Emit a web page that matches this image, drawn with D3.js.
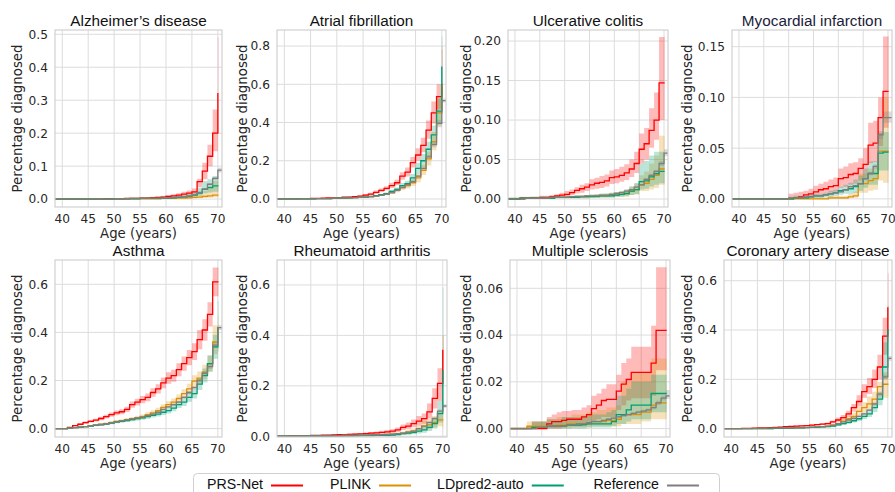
<!DOCTYPE html>
<html><head><meta charset="utf-8">
<script src="https://cdn.jsdelivr.net/npm/d3@7"></script>
<style>body{margin:0;background:#fff}svg{display:block}</style>
</head><body><svg id="c" width="895" height="492"></svg>
<script>
// ---------- DATA ----------
const AGES = [40,41,42,43,44,45,46,47,48,49,50,51,52,53,54,55,56,57,58,59,60,61,62,63,64,65,66,67,68,69,70];
const X_TICKS = [40,45,50,55,60,65,70];
const SERIES = ["PRS-Net","PLINK","LDpred2-auto","Reference"];
const TITLES = ["Alzheimer’s disease","Atrial fibrillation","Ulcerative colitis","Myocardial infarction","Asthma","Rheumatoid arthritis","Multiple sclerosis","Coronary artery disease"];

// Alzheimer's disease
const ALZ_TICKS = [0,0.1,0.2,0.3,0.4,0.5];
const ALZ_PRS    = [0,0,0,0,0,0,0,0,.001,.001,.001,.001,.002,.002,.002,.003,.003,.004,.005,.006,.008,.010,.012,.015,.018,.022,.053,.085,.130,.200,.320];
const ALZ_PRS_LO = [0,0,0,0,0,0,0,0,0,0,0,0,.001,.001,.001,.001,.001,.002,.002,.003,.004,.005,.006,.008,.010,.013,.037,.060,.100,.145,.200];
const ALZ_PRS_HI = [.001,.001,.001,.001,.001,.001,.001,.001,.002,.002,.002,.003,.003,.004,.004,.005,.006,.007,.008,.010,.012,.015,.018,.022,.026,.032,.062,.110,.165,.272,.490];
const ALZ_PL     = [0,0,0,0,0,0,0,0,0,0,0,0,0,.001,.001,.001,.001,.001,.001,.002,.002,.002,.003,.003,.004,.005,.006,.008,.010,.012,.012];
const ALZ_PL_LO  = [0,0,0,0,0,0,0,0,0,0,0,0,0,0,0,0,0,0,0,.001,.001,.001,.001,.001,.002,.002,.003,.003,.004,.005,.005];
const ALZ_PL_HI  = [.001,.001,.001,.001,.001,.001,.001,.001,.001,.001,.001,.001,.002,.002,.002,.002,.003,.003,.003,.004,.004,.005,.006,.007,.009,.012,.016,.025,.040,.055,.055];
const ALZ_LD     = [0,0,0,0,0,0,0,0,0,0,.001,.001,.001,.001,.001,.002,.002,.002,.002,.003,.003,.004,.005,.007,.009,.012,.018,.030,.035,.040,.040];
const ALZ_LD_LO  = [0,0,0,0,0,0,0,0,0,0,0,0,0,0,0,.001,.001,.001,.001,.001,.002,.002,.003,.004,.005,.007,.010,.018,.020,.022,.022];
const ALZ_LD_HI  = [.001,.001,.001,.001,.001,.001,.001,.001,.001,.001,.003,.003,.003,.004,.004,.005,.005,.005,.005,.006,.006,.007,.009,.012,.015,.020,.035,.055,.060,.070,.070];
const ALZ_RF     = [0,0,0,0,0,0,0,0,0,0,.001,.001,.001,.002,.002,.002,.002,.003,.003,.003,.004,.005,.006,.007,.009,.012,.020,.030,.045,.063,.088];
const ALZ_RF_LO  = [0,0,0,0,0,0,0,0,0,0,.001,.001,.001,.001,.001,.002,.002,.002,.002,.003,.003,.004,.005,.006,.008,.011,.018,.028,.042,.059,.081];
const ALZ_RF_HI  = [0,0,0,0,0,0,0,0,0,.001,.001,.001,.001,.002,.002,.002,.003,.003,.003,.004,.005,.006,.007,.008,.010,.013,.022,.032,.048,.067,.095];

// Atrial fibrillation
const AF_TICKS = [0,0.2,0.4,0.6,0.8];
const AF_PRS    = [0,.001,.001,.002,.002,.003,.003,.004,.005,.006,.007,.009,.010,.012,.015,.020,.025,.035,.045,.055,.070,.085,.120,.140,.190,.230,.280,.360,.450,.535,.600];
const AF_PRS_LO = [0,0,.001,.001,.001,.002,.002,.003,.004,.004,.005,.006,.007,.009,.011,.015,.019,.027,.036,.045,.058,.072,.100,.118,.165,.200,.245,.315,.395,.470,.480];
const AF_PRS_HI = [.001,.002,.002,.003,.003,.004,.005,.006,.007,.008,.010,.012,.014,.016,.020,.026,.032,.044,.055,.067,.085,.100,.140,.165,.220,.265,.320,.410,.510,.600,.780];
const AF_PL     = [0,0,.001,.001,.001,.001,.002,.002,.002,.003,.004,.005,.006,.007,.008,.010,.012,.016,.020,.025,.035,.045,.060,.070,.085,.110,.150,.210,.300,.450,.600];
const AF_PL_LO  = [0,0,0,0,0,.001,.001,.001,.001,.002,.002,.003,.004,.005,.006,.007,.009,.012,.015,.019,.027,.035,.047,.055,.068,.088,.125,.175,.255,.385,.450];
const AF_PL_HI  = [.001,.001,.002,.002,.002,.002,.003,.003,.003,.004,.006,.007,.008,.009,.010,.013,.015,.020,.025,.031,.043,.055,.073,.085,.103,.133,.178,.248,.350,.520,.800];
const AF_LD     = [0,0,.001,.001,.001,.001,.002,.002,.002,.003,.004,.005,.006,.007,.008,.010,.013,.017,.022,.028,.040,.050,.070,.080,.110,.160,.200,.260,.335,.460,.690];
const AF_LD_LO  = [0,0,0,0,0,.001,.001,.001,.001,.002,.002,.003,.004,.005,.006,.007,.010,.013,.017,.022,.032,.040,.057,.065,.092,.132,.168,.222,.290,.395,.530];
const AF_LD_HI  = [.001,.001,.002,.002,.002,.002,.003,.003,.003,.004,.006,.007,.008,.009,.010,.013,.016,.021,.027,.034,.048,.060,.083,.095,.130,.190,.235,.300,.385,.530,.850];
const AF_RF     = [0,0,.001,.001,.001,.001,.002,.002,.002,.003,.004,.005,.006,.007,.008,.010,.012,.015,.020,.025,.032,.045,.060,.075,.090,.120,.160,.220,.285,.395,.515];
const AF_RF_LO  = [0,0,0,.001,.001,.001,.001,.002,.002,.002,.003,.004,.005,.006,.007,.009,.011,.014,.018,.023,.030,.042,.056,.070,.084,.113,.151,.208,.270,.375,.505];
const AF_RF_HI  = [0,.001,.001,.001,.002,.002,.002,.003,.003,.003,.004,.005,.007,.008,.009,.011,.013,.016,.021,.027,.034,.048,.064,.080,.096,.127,.169,.232,.300,.415,.525];

// Ulcerative colitis
const UC_TICKS = [0,0.05,0.10,0.15,0.20];
const UC_PRS    = [0,.001,.001,.0015,.0015,.002,.002,.003,.004,.005,.006,.008,.011,.013,.015,.018,.020,.021,.023,.027,.028,.030,.033,.038,.045,.063,.070,.087,.100,.147,.147];
const UC_PRS_LO = [0,0,0,.0005,.0005,.001,.001,.0015,.002,.003,.003,.005,.007,.008,.010,.012,.013,.014,.016,.019,.020,.022,.024,.028,.033,.045,.050,.065,.075,.100,.100];
const UC_PRS_HI = [.001,.002,.002,.003,.003,.004,.004,.005,.006,.008,.010,.012,.015,.018,.020,.025,.027,.029,.031,.036,.038,.041,.044,.050,.060,.083,.090,.115,.135,.205,.205];
const UC_PL     = [0,0,.001,.001,.001,.001,.001,.002,.002,.002,.002,.002,.003,.003,.003,.003,.004,.004,.004,.005,.005,.006,.007,.010,.012,.018,.020,.025,.030,.038,.038];
const UC_PL_LO  = [0,0,0,0,0,0,0,.001,.001,.001,.001,.001,.001,.001,.001,.002,.002,.002,.002,.002,.003,.003,.003,.005,.006,.010,.010,.012,.014,.018,.018];
const UC_PL_HI  = [.002,.002,.002,.002,.002,.002,.002,.003,.003,.003,.004,.004,.005,.005,.005,.005,.006,.006,.007,.008,.009,.010,.012,.016,.020,.030,.035,.045,.055,.080,.080];
const UC_LD     = [0,.001,.001,.001,.001,.001,.001,.001,.002,.002,.002,.002,.002,.003,.003,.003,.003,.004,.004,.004,.005,.006,.007,.010,.012,.022,.023,.028,.032,.035,.035];
const UC_LD_LO  = [0,0,0,0,0,0,0,0,.001,.001,.001,.001,.001,.001,.001,.002,.002,.002,.002,.002,.003,.003,.004,.005,.006,.012,.013,.016,.018,.020,.020];
const UC_LD_HI  = [.002,.003,.003,.003,.003,.003,.003,.003,.004,.004,.004,.004,.005,.005,.005,.006,.006,.007,.007,.008,.009,.010,.012,.016,.020,.045,.048,.055,.060,.060,.060];
const UC_RF     = [0,0,.001,.001,.001,.001,.001,.002,.002,.002,.002,.003,.003,.003,.004,.004,.004,.005,.005,.006,.007,.008,.010,.012,.015,.018,.025,.030,.035,.045,.058];
const UC_RF_LO  = [0,0,.0005,.0005,.0005,.0005,.0005,.0015,.0015,.0015,.0015,.0025,.0025,.0025,.0035,.0035,.0035,.0045,.0045,.0055,.0065,.0075,.0093,.0112,.014,.017,.0235,.028,.033,.042,.054];
const UC_RF_HI  = [.0005,.0005,.0015,.0015,.0015,.0015,.0015,.0025,.0025,.0025,.0025,.0035,.0035,.0035,.0045,.0045,.0045,.0055,.0055,.0065,.0075,.0085,.0107,.0128,.016,.019,.0265,.032,.037,.048,.063];

// Myocardial infarction
const MI_TICKS = [0,0.05,0.10,0.15];
const MI_PRS    = [0,0,0,0,0,0,0,0,0,0,0,.001,.002,.004,.005,.007,.009,.010,.012,.013,.020,.021,.024,.025,.030,.034,.053,.055,.080,.106,.106];
const MI_PRS_LO = [0,0,0,0,0,0,0,0,0,0,0,0,0,.001,.002,.003,.004,.005,.006,.007,.011,.012,.014,.015,.018,.021,.035,.036,.052,.070,.070];
const MI_PRS_HI = [0,0,0,0,0,0,0,0,0,0,.005,.006,.007,.008,.010,.013,.015,.017,.019,.021,.030,.032,.035,.036,.040,.050,.075,.077,.100,.160,.160];
const MI_PL     = [0,0,0,0,0,0,0,0,0,0,0,0,0,0,0,0,0,0,.001,.001,.001,.001,.002,.003,.015,.015,.018,.020,.047,.047,.047];
const MI_PL_LO  = [0,0,0,0,0,0,0,0,0,0,0,0,0,0,0,0,0,0,0,0,0,0,.001,.001,.006,.006,.008,.009,.018,.016,.016];
const MI_PL_HI  = [0,0,0,0,0,0,0,0,0,0,.001,.001,.001,.001,.001,.002,.002,.002,.003,.003,.003,.003,.005,.007,.025,.025,.030,.032,.065,.100,.100];
const MI_LD     = [0,0,0,0,0,0,0,0,0,0,0,.001,.001,.001,.002,.003,.003,.004,.005,.006,.008,.009,.010,.012,.015,.020,.025,.025,.045,.046,.046];
const MI_LD_LO  = [0,0,0,0,0,0,0,0,0,0,0,0,0,0,.001,.001,.001,.002,.002,.003,.004,.005,.005,.006,.008,.011,.014,.014,.028,.028,.028];
const MI_LD_HI  = [0,0,0,0,0,0,0,0,0,0,.002,.003,.003,.003,.004,.005,.005,.006,.008,.009,.012,.014,.016,.019,.023,.030,.037,.037,.065,.066,.066];
const MI_RF     = [0,0,0,0,0,0,0,0,0,0,.001,.001,.001,.002,.002,.003,.003,.004,.005,.006,.007,.009,.012,.013,.015,.020,.025,.032,.063,.080,.080];
const MI_RF_LO  = [0,0,0,0,0,0,0,0,0,0,.0005,.0005,.0005,.0015,.0015,.0025,.0025,.0035,.0045,.0055,.0065,.0083,.011,.012,.014,.0185,.0232,.0298,.059,.075,.075];
const MI_RF_HI  = [0,0,0,0,0,0,0,0,0,0,.0015,.0015,.0015,.0025,.0025,.0035,.0035,.0045,.0055,.0065,.0075,.0097,.013,.014,.016,.0215,.0268,.0342,.067,.086,.086];

// Asthma
const AS_TICKS = [0,0.2,0.4,0.6];
const AS_PRS    = [0,.005,.012,.018,.025,.030,.035,.042,.050,.058,.065,.070,.080,.100,.110,.120,.130,.150,.165,.190,.210,.220,.245,.270,.295,.320,.370,.410,.475,.610,.610];
const AS_PRS_LO = [0,.003,.009,.014,.020,.025,.029,.035,.042,.049,.055,.060,.069,.087,.096,.105,.114,.132,.146,.168,.186,.195,.218,.240,.263,.285,.330,.365,.425,.550,.550];
const AS_PRS_HI = [.002,.007,.015,.022,.030,.036,.041,.049,.058,.067,.075,.080,.091,.113,.124,.135,.146,.168,.184,.212,.234,.245,.272,.300,.327,.355,.410,.455,.525,.670,.670];
const AS_PL     = [0,.002,.004,.006,.008,.012,.015,.018,.021,.025,.030,.033,.037,.041,.045,.050,.058,.065,.075,.088,.100,.110,.125,.145,.165,.197,.210,.235,.270,.360,.420];
const AS_PL_LO  = [0,.001,.002,.004,.006,.009,.011,.014,.016,.020,.024,.027,.030,.034,.037,.041,.048,.054,.063,.075,.086,.095,.108,.126,.144,.172,.183,.205,.237,.310,.330];
const AS_PL_HI  = [.001,.003,.006,.008,.010,.015,.019,.022,.026,.030,.036,.039,.044,.048,.053,.059,.068,.076,.087,.101,.114,.125,.142,.164,.186,.222,.237,.265,.303,.430,.470];
const AS_LD     = [0,.002,.004,.006,.008,.010,.013,.016,.019,.023,.027,.030,.033,.037,.041,.045,.050,.055,.060,.068,.075,.085,.100,.110,.130,.145,.185,.220,.270,.340,.420];
const AS_LD_LO  = [0,.001,.002,.004,.006,.008,.010,.013,.015,.018,.022,.024,.027,.030,.034,.037,.041,.046,.050,.057,.063,.072,.086,.094,.112,.125,.160,.192,.236,.290,.320];
const AS_LD_HI  = [.001,.003,.006,.008,.010,.012,.016,.019,.023,.028,.032,.036,.039,.044,.048,.053,.059,.064,.070,.079,.087,.098,.115,.126,.148,.165,.210,.250,.305,.390,.530];
const AS_RF     = [0,.002,.004,.006,.008,.011,.014,.017,.020,.024,.028,.032,.036,.040,.044,.048,.054,.060,.068,.080,.090,.100,.110,.130,.150,.170,.200,.230,.258,.347,.420];
const AS_RF_LO  = [0,.001,.003,.005,.007,.010,.013,.016,.019,.023,.027,.031,.034,.038,.042,.046,.052,.058,.065,.077,.087,.096,.106,.125,.144,.164,.193,.222,.249,.335,.410];
const AS_RF_HI  = [.001,.003,.005,.007,.009,.012,.015,.018,.021,.025,.029,.033,.038,.042,.046,.050,.056,.062,.071,.083,.093,.104,.114,.135,.156,.176,.207,.238,.267,.359,.430];

// Rheumatoid arthritis
const RA_TICKS = [0,0.2,0.4,0.6];
const RA_PRS    = [0,.001,.001,.002,.002,.003,.003,.004,.004,.005,.006,.006,.007,.008,.009,.010,.012,.013,.015,.017,.020,.025,.035,.040,.050,.060,.070,.097,.150,.210,.340];
const RA_PRS_LO = [0,0,0,.001,.001,.001,.002,.002,.002,.003,.003,.004,.004,.005,.005,.006,.007,.008,.009,.011,.013,.017,.025,.028,.036,.044,.050,.070,.110,.140,.200];
const RA_PRS_HI = [.002,.002,.003,.004,.004,.005,.005,.006,.007,.008,.009,.010,.011,.012,.013,.015,.017,.019,.022,.025,.028,.035,.047,.055,.066,.080,.090,.130,.190,.270,.400];
const RA_PL     = [0,0,0,.001,.001,.001,.001,.002,.002,.002,.002,.003,.003,.003,.004,.004,.005,.005,.006,.007,.008,.010,.012,.016,.020,.030,.040,.045,.055,.065,.065];
const RA_PL_LO  = [0,0,0,0,0,0,0,.001,.001,.001,.001,.001,.001,.001,.002,.002,.002,.002,.003,.003,.004,.005,.006,.008,.011,.018,.025,.028,.035,.040,.030];
const RA_PL_HI  = [.001,.001,.001,.002,.002,.002,.002,.003,.003,.003,.004,.005,.005,.005,.006,.006,.008,.008,.009,.011,.013,.016,.019,.025,.031,.045,.060,.068,.080,.095,.400];
const RA_LD     = [0,0,0,0,.001,.001,.001,.001,.001,.002,.002,.002,.002,.003,.003,.003,.003,.004,.004,.004,.005,.007,.010,.012,.015,.020,.025,.035,.050,.090,.260];
const RA_LD_LO  = [0,0,0,0,0,0,0,0,0,.001,.001,.001,.001,.001,.001,.001,.001,.002,.002,.002,.002,.003,.005,.006,.008,.011,.014,.021,.031,.055,.100];
const RA_LD_HI  = [.001,.001,.001,.001,.002,.002,.002,.002,.002,.003,.003,.004,.004,.005,.005,.005,.005,.006,.006,.006,.008,.011,.016,.019,.023,.031,.038,.052,.075,.140,.590];
const RA_RF     = [0,0,0,.001,.001,.001,.001,.002,.002,.002,.002,.003,.003,.003,.004,.004,.005,.005,.006,.007,.008,.010,.012,.016,.020,.030,.040,.055,.070,.100,.120];
const RA_RF_LO  = [0,0,0,.001,.001,.001,.001,.002,.002,.002,.002,.003,.003,.003,.004,.004,.005,.005,.006,.006,.007,.009,.011,.015,.019,.028,.038,.052,.066,.094,.113];
const RA_RF_HI  = [.001,.001,.001,.001,.001,.001,.001,.002,.002,.002,.002,.003,.003,.003,.004,.004,.005,.005,.006,.008,.009,.011,.013,.017,.021,.032,.042,.058,.074,.106,.127];

// Multiple sclerosis
const MS_TICKS = [0,0.02,0.04,0.06];
const MS_PRS    = [0,0,0,0,0,0,.002,.003,.003,.0035,.004,.004,.004,.005,.006,.0085,.010,.012,.0125,.0125,.016,.019,.021,.024,.024,.024,.024,.028,.042,.042,.042];
const MS_PRS_LO = [0,0,0,0,0,0,0,0,0,.0005,.001,.001,.001,.001,.0015,.003,.004,.005,.005,.005,.008,.010,.012,.013,.013,.013,.013,.014,.025,.025,.025];
const MS_PRS_HI = [.0005,.0005,.001,.003,.003,.003,.005,.006,.007,.0075,.0075,.008,.008,.009,.010,.014,.015,.017,.019,.019,.023,.028,.030,.035,.035,.035,.035,.044,.069,.069,.069];
const MS_PL     = [0,0,.001,.001,.001,.001,.001,.001,.0015,.0015,.002,.002,.002,.002,.0025,.003,.003,.003,.0035,.0035,.004,.006,.006,.006,.006,.007,.007,.010,.011,.011,.011];
const MS_PL_LO  = [0,0,0,0,0,0,0,0,0,0,0,.0005,.0005,.0005,.0005,.001,.001,.001,.001,.001,.001,.002,.002,.002,.002,.003,.003,.004,.004,.004,.004];
const MS_PL_HI  = [.0005,.0005,.003,.003,.003,.003,.004,.004,.005,.005,.005,.006,.006,.006,.007,.007,.008,.008,.009,.009,.010,.020,.020,.024,.024,.024,.024,.030,.030,.030,.030];
const MS_LD     = [0,0,0,.0005,.0005,.0005,.001,.001,.001,.0012,.0015,.0015,.0015,.0017,.002,.002,.002,.002,.002,.003,.006,.006,.008,.010,.010,.010,.010,.015,.015,.015,.015];
const MS_LD_LO  = [0,0,0,0,0,0,0,0,0,0,0,0,0,0,.0005,.0005,.0005,.0005,.0005,.001,.002,.002,.003,.004,.004,.004,.004,.007,.007,.007,.007];
const MS_LD_HI  = [.0005,.0005,.001,.003,.003,.003,.004,.004,.004,.005,.005,.005,.005,.005,.006,.006,.006,.006,.007,.008,.014,.014,.017,.020,.020,.020,.020,.023,.023,.023,.023];
const MS_RF     = [0,0,0,0,.0005,.0005,.001,.001,.001,.0012,.0015,.0017,.002,.002,.0025,.003,.003,.0035,.004,.0045,.005,.0055,.006,.0065,.007,.0075,.008,.009,.011,.013,.014];
const MS_RF_LO  = [0,0,0,0,.0003,.0003,.0008,.0008,.0008,.001,.0013,.0015,.0018,.0018,.0022,.0027,.0027,.0032,.0036,.0041,.0046,.0051,.0055,.006,.0064,.0069,.0074,.0083,.0101,.012,.0128];
const MS_RF_HI  = [.0003,.0003,.0003,.0003,.0007,.0007,.0012,.0012,.0012,.0014,.0017,.0019,.0022,.0022,.0028,.0033,.0033,.0038,.0044,.0049,.0054,.0059,.0065,.007,.0076,.0081,.0086,.0097,.0119,.014,.0165];

// Coronary artery disease
const CAD_TICKS = [0,0.2,0.4,0.6];
const CAD_PRS    = [0,0,.001,.001,.002,.003,.003,.004,.005,.006,.008,.009,.010,.011,.012,.014,.016,.018,.020,.027,.035,.045,.060,.085,.110,.150,.170,.200,.250,.375,.490];
const CAD_PRS_LO = [0,0,0,0,.001,.002,.002,.003,.004,.004,.006,.007,.008,.009,.010,.011,.013,.015,.016,.022,.028,.036,.048,.068,.090,.125,.140,.165,.200,.300,.350];
const CAD_PRS_HI = [.001,.001,.002,.002,.003,.004,.004,.005,.006,.008,.010,.011,.012,.013,.015,.017,.019,.022,.025,.033,.045,.055,.072,.100,.135,.180,.205,.240,.300,.450,.630];
const CAD_PL     = [0,0,0,0,0,0,0,0,.001,.001,.002,.002,.003,.003,.004,.005,.006,.008,.010,.015,.020,.030,.040,.050,.070,.085,.100,.120,.170,.180,.180];
const CAD_PL_LO  = [0,0,0,0,0,0,0,0,0,0,.001,.001,.002,.002,.003,.003,.004,.005,.007,.010,.014,.021,.029,.036,.052,.063,.075,.090,.125,.125,.125];
const CAD_PL_HI  = [.001,.001,.001,.001,.001,.001,.001,.001,.002,.002,.003,.003,.004,.004,.005,.007,.008,.011,.013,.020,.026,.039,.051,.064,.088,.107,.130,.150,.190,.230,.230];
const CAD_LD     = [0,0,0,0,0,0,0,0,.001,.001,.002,.002,.003,.003,.004,.005,.006,.007,.008,.010,.015,.020,.025,.032,.040,.050,.060,.085,.120,.250,.400];
const CAD_LD_LO  = [0,0,0,0,0,0,0,0,0,0,.001,.001,.002,.002,.003,.004,.005,.005,.006,.007,.011,.015,.019,.025,.031,.039,.047,.067,.095,.200,.300];
const CAD_LD_HI  = [.001,.001,.001,.001,.001,.001,.001,.001,.002,.002,.003,.003,.004,.004,.005,.006,.007,.009,.010,.013,.019,.025,.031,.040,.050,.062,.075,.105,.150,.350,.500];
const CAD_RF     = [0,0,0,0,.001,.001,.001,.002,.002,.002,.003,.003,.004,.004,.005,.006,.007,.008,.010,.013,.020,.027,.035,.042,.050,.060,.075,.100,.140,.210,.285];
const CAD_RF_LO  = [0,0,0,0,.001,.001,.001,.002,.002,.002,.003,.003,.004,.004,.005,.006,.007,.008,.009,.012,.019,.026,.033,.040,.047,.057,.071,.095,.133,.200,.275];
const CAD_RF_HI  = [0,0,0,0,.001,.001,.001,.002,.002,.002,.003,.003,.004,.004,.005,.006,.007,.008,.011,.014,.021,.028,.037,.044,.053,.063,.079,.105,.147,.220,.295];

// ---------- CHART ----------
const COLORS = ["#ff0000","#de8f05","#029e73","#7f7f7f"];
const X_DOMAIN = [38.6, 70.8];
const panels = [
  {t:TITLES[0], yd:[-0.024,0.513], ticks:ALZ_TICKS, f:".1f", s:[[ALZ_PRS,ALZ_PRS_LO,ALZ_PRS_HI],[ALZ_PL,ALZ_PL_LO,ALZ_PL_HI],[ALZ_LD,ALZ_LD_LO,ALZ_LD_HI],[ALZ_RF,ALZ_RF_LO,ALZ_RF_HI]]},
  {t:TITLES[1], yd:[-0.042,0.884], ticks:AF_TICKS, f:".1f", s:[[AF_PRS,AF_PRS_LO,AF_PRS_HI],[AF_PL,AF_PL_LO,AF_PL_HI],[AF_LD,AF_LD_LO,AF_LD_HI],[AF_RF,AF_RF_LO,AF_RF_HI]]},
  {t:TITLES[2], yd:[-0.0101,0.214], ticks:UC_TICKS, f:".2f", s:[[UC_PRS,UC_PRS_LO,UC_PRS_HI],[UC_PL,UC_PL_LO,UC_PL_HI],[UC_LD,UC_LD_LO,UC_LD_HI],[UC_RF,UC_RF_LO,UC_RF_HI]]},
  {t:TITLES[3], yd:[-0.008,0.1664], ticks:MI_TICKS, f:".2f", tc:"#1c1c3a", s:[[MI_PRS,MI_PRS_LO,MI_PRS_HI],[MI_PL,MI_PL_LO,MI_PL_HI],[MI_LD,MI_LD_LO,MI_LD_HI],[MI_RF,MI_RF_LO,MI_RF_HI]]},
  {t:TITLES[4], yd:[-0.035,0.701], ticks:AS_TICKS, f:".1f", s:[[AS_PRS,AS_PRS_LO,AS_PRS_HI],[AS_PL,AS_PL_LO,AS_PL_HI],[AS_LD,AS_LD_LO,AS_LD_HI],[AS_RF,AS_RF_LO,AS_RF_HI]]},
  {t:TITLES[5], yd:[-0.003,0.699], ticks:RA_TICKS, f:".1f", s:[[RA_PRS,RA_PRS_LO,RA_PRS_HI],[RA_PL,RA_PL_LO,RA_PL_HI],[RA_LD,RA_LD_LO,RA_LD_HI],[RA_RF,RA_RF_LO,RA_RF_HI]]},
  {t:TITLES[6], yd:[-0.0036,0.0721], ticks:MS_TICKS, f:".2f", s:[[MS_PRS,MS_PRS_LO,MS_PRS_HI],[MS_PL,MS_PL_LO,MS_PL_HI],[MS_LD,MS_LD_LO,MS_LD_HI],[MS_RF,MS_RF_LO,MS_RF_HI]]},
  {t:TITLES[7], yd:[-0.034,0.684], ticks:CAD_TICKS, f:".1f", s:[[CAD_PRS,CAD_PRS_LO,CAD_PRS_HI],[CAD_PL,CAD_PL_LO,CAD_PL_HI],[CAD_LD,CAD_LD_LO,CAD_LD_HI],[CAD_RF,CAD_RF_LO,CAD_RF_HI]]}
];
const boxes = [
  [55,222,30,207],[277,446,30,207],[508,668,30,207],[732,892,30,207],
  [55,222,260,437],[277,447,260,437],[510,670,260,437],[724,892,260,437]
];
const ylabX = [22,246.5,471,691.5,22,246.5,471,691.5];

const svg = d3.select("#c");
const TICKF = "DejaVu Sans, sans-serif";
const TXT = "#262626";

panels.forEach((p,i)=>{
  const [x0,x1,y0,y1] = boxes[i];
  const x = d3.scaleLinear().domain(X_DOMAIN).range([x0,x1]);
  const y = d3.scaleLinear().domain(p.yd).range([y1,y0]);
  const g = svg.append("g");
  const cid = "clip"+i;
  svg.append("clipPath").attr("id",cid).append("rect").attr("x",x0).attr("y",y0).attr("width",x1-x0).attr("height",y1-y0);

  // grid
  g.append("g").selectAll("line").data(X_TICKS).join("line")
    .attr("x1",d=>x(d)).attr("x2",d=>x(d)).attr("y1",y0).attr("y2",y1)
    .attr("stroke","#dcdcdc").attr("stroke-width",1);
  g.append("g").selectAll("line").data(p.ticks).join("line")
    .attr("x1",x0).attr("x2",x1).attr("y1",d=>y(d)).attr("y2",d=>y(d))
    .attr("stroke","#dcdcdc").attr("stroke-width",1);

  // data
  const plot = g.append("g").attr("clip-path",`url(#${cid})`);
  const stepPts = (vals, isRef) => {
    const pts = vals.map((v,k)=>({x: k===0 ? X_DOMAIN[0] : AGES[k], v}));
    pts.push({x: isRef ? X_DOMAIN[1] : AGES[AGES.length-1]+0.12, v: vals[vals.length-1]});
    return pts;
  };
  p.s.forEach((ser,j)=>{
    const [v,lo,hi] = ser;
    const isRef = j===3;
    const pl = stepPts(lo,isRef), ph = stepPts(hi,isRef);
    const band = pl.map((d,k)=>({x:d.x, lo:d.v, hi:ph[k].v}));
    plot.append("path").datum(band)
      .attr("d", d3.area().curve(d3.curveStepAfter).x(d=>x(d.x)).y0(d=>y(d.lo)).y1(d=>y(d.hi)))
      .attr("fill",COLORS[j]).attr("fill-opacity",0.27).attr("stroke","none");
  });
  p.s.forEach((ser,j)=>{
    const isRef = j===3;
    plot.append("path").datum(stepPts(ser[0],isRef))
      .attr("d", d3.line().curve(d3.curveStepAfter).x(d=>x(d.x)).y(d=>y(d.v)))
      .attr("fill","none").attr("stroke",COLORS[j]).attr("stroke-width",1.3);
  });

  // spines
  g.append("rect").attr("x",x0).attr("y",y0).attr("width",x1-x0).attr("height",y1-y0)
    .attr("fill","none").attr("stroke","#cccccc").attr("stroke-width",1.1);

  // tick labels
  const fmt = d3.format(p.f);
  g.append("g").selectAll("text").data(p.ticks).join("text")
    .attr("x",x0-7).attr("y",d=>y(d)).attr("dy","0.36em").attr("text-anchor","end")
    .attr("font-family",TICKF).attr("font-size","12.2px").attr("fill",TXT).text(d=>fmt(d));
  g.append("g").selectAll("text").data(X_TICKS).join("text")
    .attr("x",d=>x(d)).attr("y",y1+15.5).attr("text-anchor","middle")
    .attr("font-family",TICKF).attr("font-size","12.2px").attr("fill",TXT).text(d=>d);

  // axis labels
  g.append("text").attr("x",(x0+x1)/2).attr("y",y1+30.5).attr("text-anchor","middle")
    .attr("font-family",TICKF).attr("font-size","13.3px").attr("fill",TXT).text("Age (years)");
  g.append("text").attr("transform",`translate(${ylabX[i]},${(y0+y1)/2}) rotate(-90)`)
    .attr("text-anchor","middle").attr("font-family",TICKF).attr("font-size","13.3px")
    .attr("fill",TXT).text("Percentage diagnosed");

  // title
  g.append("text").attr("x",(x0+x1)/2).attr("y",y0-4).attr("text-anchor","middle")
    .attr("font-family","Liberation Sans, Arial, sans-serif").attr("font-size","15.3px")
    .attr("fill",p.tc||"#111").text(p.t);
});

// legend
const lg = svg.append("g");
lg.append("rect").attr("x",193.5).attr("y",473.5).attr("width",526).attr("height",34).attr("rx",4)
  .attr("fill","#fff").attr("fill-opacity",0.85).attr("stroke","#d0d0d0").attr("stroke-width",1);
const lx = [207,330,437,593.5];
SERIES.forEach((s,j)=>{
  const t = lg.append("text").attr("x",lx[j]).attr("y",489)
    .attr("font-family","Liberation Sans, Arial, sans-serif").attr("font-size","14.2px").attr("fill","#111").text(s);
  const w = t.node().getComputedTextLength();
  lg.append("line").attr("x1",lx[j]+w+8).attr("x2",lx[j]+w+40).attr("y1",485.5).attr("y2",485.5)
    .attr("stroke",COLORS[j]).attr("stroke-width",2.2);
});
</script></body></html>
